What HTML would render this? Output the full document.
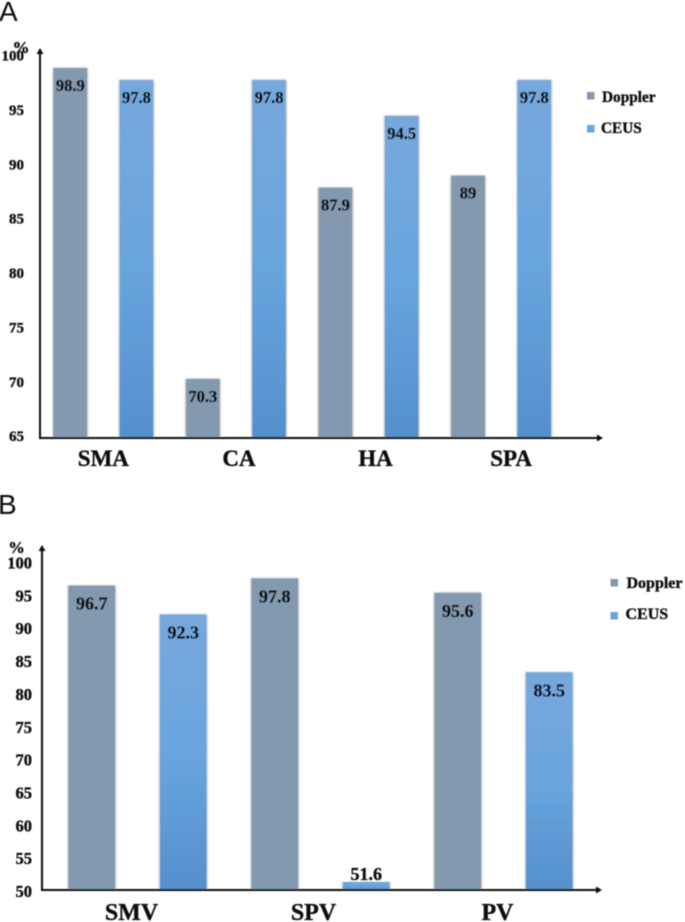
<!DOCTYPE html>
<html>
<head>
<meta charset="utf-8">
<style>
html,body{margin:0;padding:0;background:#fff;width:685px;height:922px;overflow:hidden}
svg{display:block}
text{font-family:"Liberation Serif",serif;font-weight:bold;fill:#0a0a0a;stroke:#0a0a0a;stroke-width:0.35px}
text.panel{font-family:"Liberation Sans",sans-serif;font-weight:normal;font-size:28px;fill:#111;stroke:none}
</style>
</head>
<body>
<svg id="chart" xmlns="http://www.w3.org/2000/svg" width="685" height="922" viewBox="0 0 685 922">
<defs>
<linearGradient id="ceusGrad" x1="0" y1="0" x2="0" y2="1">
<stop offset="0" stop-color="#77a8dd"/><stop offset="0.5" stop-color="#69a5de"/><stop offset="1" stop-color="#5590cd"/>
</linearGradient>
<filter id="soft" x="-5%" y="-5%" width="110%" height="110%"><feGaussianBlur stdDeviation="0.4"/></filter>
<filter id="barShadow" x="-20%" y="-5%" width="140%" height="110%"><feGaussianBlur stdDeviation="1.1"/></filter>
</defs>
<g id="root" filter="url(#soft)"></g>
</svg>
<script>
var categoriesA = ["SMA", "CA", "HA", "SPA"];
var dopplerA = [98.9, 70.3, 87.9, 89];
var ceusA = [97.8, 97.8, 94.5, 97.8];
var ticksA = [65, 70, 75, 80, 85, 90, 95, 100];

var categoriesB = ["SMV", "SPV", "PV"];
var dopplerB = [96.7, 97.8, 95.6];
var ceusB = [92.3, 51.6, 83.5];
var ticksB = [50, 55, 60, 65, 70, 75, 80, 85, 90, 95, 100];

var NS = "http://www.w3.org/2000/svg";
var root = document.getElementById("root");

function make(tag, attrs, parent) {
  var el = document.createElementNS(NS, tag);
  for (var k in attrs) el.setAttribute(k, attrs[k]);
  (parent || root).appendChild(el);
  return el;
}
function label(str, x, y, size, anchor, parent) {
  var t = make("text", {x: x, y: y, "font-size": size, "text-anchor": anchor || "middle"}, parent);
  t.textContent = str;
  return t;
}

function drawPanel(cfg) {
  var g = make("g", {});
  
  

  function y(v) { return cfg.y0 - (v - cfg.vMin) * cfg.scale; }
  function groupX(i) { return cfg.x0 + i * cfg.groupStep; }

  var letter = make("text", {x: cfg.letterX, y: cfg.letterY, "class": "panel"}, g);
  
  
  letter.textContent = cfg.letter;

  cfg.ticks.forEach(function (v) {
    var t = label(String(v), cfg.tickX, y(v) + cfg.tickDy, cfg.tickSize, "end", g);
    
    
  });

  var pct = label("%", cfg.pctX, cfg.pctY, cfg.pctSize, "middle", g);
  
  

  cfg.categories.forEach(function (c, i) {
    var xs = [groupX(i), groupX(i) + cfg.pairStep];
    var vals = [cfg.doppler[i], cfg.ceus[i]];
    [0, 1].forEach(function (s) {
      var top = y(vals[s]);
      var h = cfg.axisY - top;
      var shadow = make("rect", {x: xs[s] - 0.5, y: top, width: cfg.barW + 1, height: h, fill: "#808080", filter: "url(#barShadow)", opacity: 0.75}, g);
      
      
      var bar = make("rect", {x: xs[s], y: top, width: cfg.barW, height: h, fill: s === 0 ? "#8399b0" : "url(#ceusGrad)"}, g);
      
      
      var ly = h < 40 ? top - 2 : top + cfg.valueDy;
      var val = label(String(vals[s]), xs[s] + cfg.barW / 2, ly, cfg.valueSize, "middle", g);
      
      
    });
    var cat = label(c, xs[0] + (cfg.pairStep + cfg.barW) / 2 + cfg.catDx[i], cfg.catY, cfg.catSize, "middle", g);
    
    
  });

  var yAxis = make("line", {x1: cfg.axisX, y1: cfg.axisY + 1, x2: cfg.axisX, y2: cfg.axisTop + 4, stroke: "#111", "stroke-width": 2}, g);
  
  
  var yArrow = make("polygon", {points: (cfg.axisX - 3.5) + "," + (cfg.axisTop + 6) + " " + cfg.axisX + "," + cfg.axisTop + " " + (cfg.axisX + 3.5) + "," + (cfg.axisTop + 6), fill: "#111"}, g);
  
  
  var xAxis = make("line", {x1: cfg.axisX, y1: cfg.axisY, x2: cfg.axisRight - 4, y2: cfg.axisY, stroke: "#111", "stroke-width": 2}, g);
  
  
  var xArrow = make("polygon", {points: (cfg.axisRight - 6) + "," + (cfg.axisY - 3.5) + " " + cfg.axisRight + "," + cfg.axisY + " " + (cfg.axisRight - 6) + "," + (cfg.axisY + 3.5), fill: "#111"}, g);
  
  

  var s1 = make("rect", {x: cfg.legX, y: cfg.legY1 - 4, width: 7.5, height: 7.5, fill: "#8399b0"}, g);
  
  
  var s2 = make("rect", {x: cfg.legX, y: cfg.legY2 - 4, width: 7.5, height: 7.5, fill: "#69a5de"}, g);
  
  
  var l1 = label("Doppler", cfg.legX + cfg.legDx1, cfg.legT1, cfg.legSize, "start", g);
  
  
  var l2 = label("CEUS", cfg.legX + cfg.legDx2, cfg.legT2, cfg.legSize, "start", g);
  
  
}

drawPanel({
  id: "panel-a", letter: "A", letterX: -1, letterY: 21,
  categories: categoriesA, doppler: dopplerA, ceus: ceusA, ticks: ticksA,
  vMin: 65, y0: 436.6, scale: 10.87,
  x0: 53.5, groupStep: 132.6, pairStep: 66.2, barW: 33.5,
  axisX: 40, axisY: 438, axisTop: 48, axisRight: 603,
  tickX: 24, tickDy: 4.5, tickSize: 15, pctX: 21, pctY: 53, pctSize: 17,
  valueDy: 23, valueSize: 16.5, catDx: [0, 3, 7, 10], catY: 466, catSize: 23,
  legX: 587, legY1: 96, legY2: 129, legDx1: 15, legDx2: 14, legT1: 102, legT2: 133, legSize: 15.3
});
drawPanel({
  id: "panel-b", letter: "B", letterX: -2, letterY: 514,
  categories: categoriesB, doppler: dopplerB, ceus: ceusB, ticks: ticksB,
  vMin: 50, y0: 892.5, scale: 6.57,
  x0: 68.5, groupStep: 183, pairStep: 91.5, barW: 46.5,
  axisX: 42, axisY: 890, axisTop: 545, axisRight: 602,
  tickX: 32, tickDy: 4.5, tickSize: 16.5, pctX: 16.5, pctY: 553, pctSize: 16.5,
  valueDy: 24, valueSize: 18, catDx: [-6, -7, -6], catY: 920, catSize: 24,
  legX: 610.5, legY1: 583, legY2: 616, legDx1: 16, legDx2: 15, legT1: 588, legT2: 619, legSize: 16
});
</script>
</body>
</html>
